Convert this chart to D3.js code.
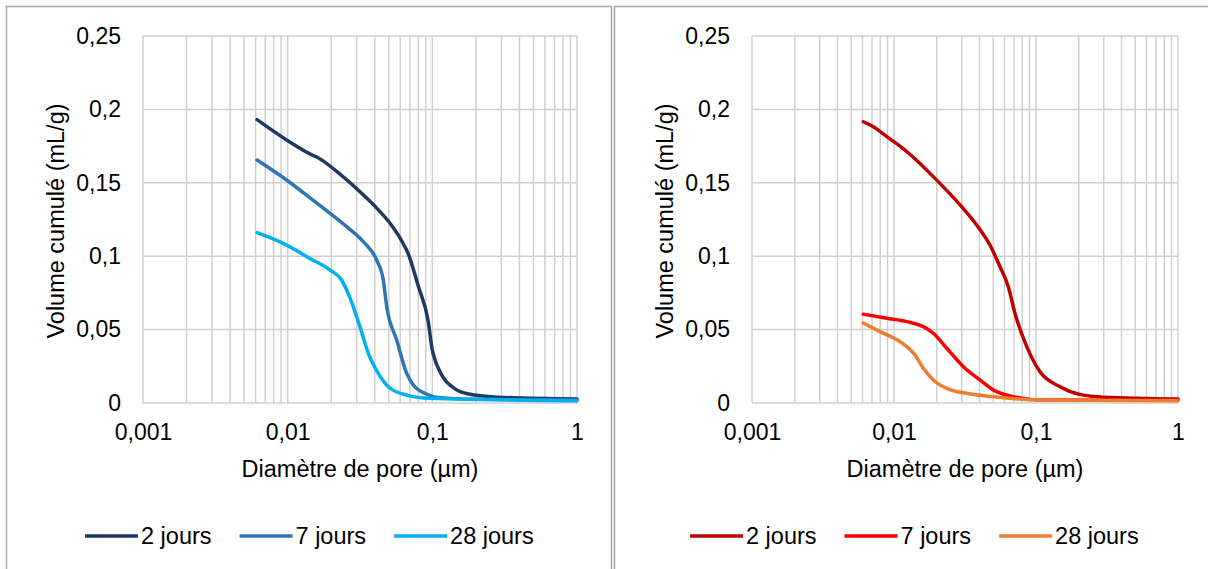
<!DOCTYPE html>
<html><head><meta charset="utf-8">
<script src="https://cdn.jsdelivr.net/npm/d3@7"></script>
<style>
body{margin:0;background:#fff}
svg{display:block}
text{font-family:"Liberation Sans",Arial,sans-serif;fill:#000}
</style>
</head><body>
<svg id="chart" width="1208" height="569"></svg>
<script>
// ---- data (diamètre µm, volume cumulé mL/g) ----
const seriesNames = ["2 jours", "7 jours", "28 jours"];
const xTickValues = [0.001, 0.01, 0.1, 1];
const xTickLabels = ["0,001", "0,01", "0,1", "1"];
const yTickValues = [0, 0.05, 0.1, 0.15, 0.2, 0.25];
const yTickLabels = ["0", "0,05", "0,1", "0,15", "0,2", "0,25"];
const xTitle = "Diamètre de pore (µm)";
const yTitle = "Volume cumulé (mL/g)";

const left2j = [[0.00614,0.193],[0.00989,0.179],[0.0147,0.169],[0.0160,0.1674],[0.0219,0.1576],[0.0316,0.1439],[0.0414,0.1326],[0.0510,0.1224],[0.0627,0.1088],[0.0679,0.102],[0.0800,0.0795],[0.0933,0.0565],[0.1,0.036],[0.1047,0.029],[0.1115,0.0225],[0.1474,0.0089],[0.1718,0.0065],[0.282,0.004],[1,0.0027]];
const left7j = [[0.00614,0.1655],[0.00982,0.1519],[0.01545,0.1371],[0.01963,0.1292],[0.0256,0.1201],[0.0333,0.1099],[0.0412,0.0974],[0.0458,0.0838],[0.0484,0.0656],[0.0567,0.0429],[0.0665,0.0202],[0.0738,0.0123],[0.0889,0.0066],[0.1047,0.004],[0.2,0.0025],[1,0.002]];
const left28j = [[0.00614,0.116],[0.0091,0.1092],[0.01426,0.0985],[0.01963,0.0906],[0.0236,0.0838],[0.0262,0.0747],[0.0316,0.052],[0.0361,0.0338],[0.0423,0.0202],[0.0496,0.0111],[0.0665,0.0054],[0.0964,0.0032],[1,0.0016]];

const right2j = [[0.00608,0.1916],[0.00715,0.1882],[0.0089,0.1814],[0.01102,0.175],[0.01367,0.1674],[0.0189,0.1542],[0.0292,0.1349],[0.0382,0.1213],[0.0474,0.1076],[0.0558,0.0928],[0.0638,0.0792],[0.0711,0.0611],[0.0861,0.0384],[0.1067,0.0213],[0.1476,0.0111],[0.2067,0.0057],[0.301,0.004],[1,0.0027]];
const right7j = [[0.00608,0.0605],[0.0089,0.0577],[0.01228,0.0554],[0.01608,0.052],[0.0189,0.0475],[0.0235,0.0373],[0.0308,0.0247],[0.0403,0.0157],[0.05,0.0089],[0.0692,0.0043],[0.1125,0.002],[1,0.0018]];
const right28j = [[0.00608,0.0545],[0.00797,0.0486],[0.01102,0.0418],[0.01406,0.0327],[0.01608,0.0236],[0.0189,0.0157],[0.0235,0.01],[0.0325,0.0066],[0.05,0.0043],[0.1125,0.002],[1,0.0015]];

const leftColors = ["#1f3864", "#2e75b6", "#00b0f0"];
const rightColors = ["#c00000", "#ff0000", "#ed7d31"];

// ---- layout ----
const panels = [
  {frameX: 6, frameW: 605, plotX0: 143, plotX1: 577, legendX: 85, series: [left2j, left7j, left28j], colors: leftColors},
  {frameX: 614, frameW: 610, plotX0: 752, plotX1: 1178, legendX: 690, series: [right2j, right7j, right28j], colors: rightColors}
];
const plotY0 = 36, plotY1 = 403;
const svg = d3.select("#chart");

panels.forEach(p => {
  const g = svg.append("g");
  g.append("rect").attr("x", p.frameX + 0.5).attr("y", 6.5).attr("width", p.frameW).attr("height", 600)
    .attr("fill", "#fff").attr("stroke", "#a6a6a6").attr("stroke-width", 1.5);

  const x = d3.scaleLog().domain([0.001, 1]).range([p.plotX0, p.plotX1]);
  const y = d3.scaleLinear().domain([0, 0.25]).range([plotY1, plotY0]);

  // grid
  const vLines = [];
  [0.001, 0.01, 0.1].forEach(dec => { for (let k = 1; k <= 9; k++) vLines.push(dec * k); });
  vLines.push(1);
  g.append("g").selectAll("line").data(vLines).join("line")
    .attr("x1", d => x(d)).attr("x2", d => x(d)).attr("y1", plotY0).attr("y2", plotY1)
    .attr("stroke", "#d0d0d0").attr("stroke-width", 1.5);
  g.append("g").selectAll("line").data(yTickValues).join("line")
    .attr("x1", p.plotX0).attr("x2", p.plotX1).attr("y1", d => y(d)).attr("y2", d => y(d))
    .attr("stroke", "#d0d0d0").attr("stroke-width", 1.5);

  // axes
  const xa = g.append("g").attr("transform", `translate(0,${plotY1})`)
    .call(d3.axisBottom(x).tickValues(xTickValues).tickFormat((d, i) => xTickLabels[i]).tickSize(0).tickPadding(21));
  xa.select(".domain").remove();
  xa.attr("font-size", 23).attr("font-family", null);
  xa.selectAll("text").attr("fill", "#000");

  const ya = g.append("g").attr("transform", `translate(${p.plotX0},0)`)
    .call(d3.axisLeft(y).tickValues(yTickValues).tickFormat((d, i) => yTickLabels[i]).tickSize(0).tickPadding(22));
  ya.select(".domain").remove();
  ya.attr("font-size", 23).attr("font-family", null);
  ya.selectAll("text").attr("fill", "#000");

  // titles
  g.append("text").attr("x", (p.plotX0 + p.plotX1) / 2).attr("y", 477).attr("text-anchor", "middle")
    .attr("font-size", 23.5).text(xTitle);
  g.append("text").attr("transform", `translate(${p.plotX0 - 79},221) rotate(-90)`).attr("text-anchor", "middle")
    .attr("font-size", 23.5).text(yTitle);

  // lines
  const line = d3.line().x(d => x(d[0])).y(d => y(d[1])).curve(d3.curveMonotoneX);
  p.series.forEach((s, i) => {
    g.append("path").datum(s).attr("d", line).attr("fill", "none")
      .attr("stroke", p.colors[i]).attr("stroke-width", 3.5).attr("stroke-linejoin", "round").attr("stroke-linecap", "round");
  });

  // legend
  let lx = p.legendX;
  const ly = 536;
  seriesNames.forEach((name, i) => {
    g.append("line").attr("x1", lx).attr("x2", lx + 53).attr("y1", ly).attr("y2", ly)
      .attr("stroke", p.colors[i]).attr("stroke-width", 3.5);
    const t = g.append("text").attr("x", lx + 56).attr("y", ly + 8.3).attr("font-size", 23.5).text(name);
    lx += 56 + t.node().getComputedTextLength() + 28;
  });
});
</script>
</body></html>
